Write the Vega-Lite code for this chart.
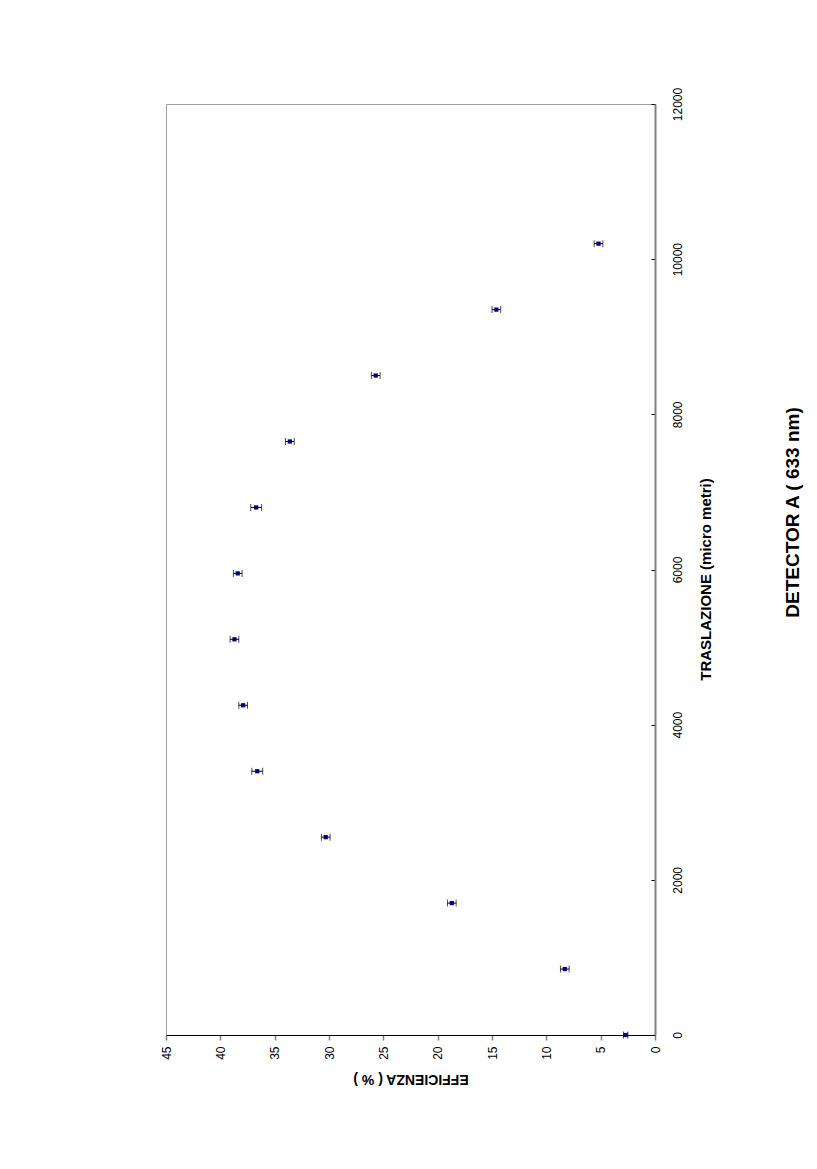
{
  "$schema": "https://vega.github.io/schema/vega-lite/v6.json",
  "autosize": {"type": "none"},
  "width": 489,
  "height": 931,
  "padding": {"left": 166, "top": 104, "right": 162, "bottom": 134},
  "background": "white",
  "config": {
    "font": "Liberation Sans",
    "view": {"stroke": "#a0a0a0", "strokeWidth": 1}
  },
  "title": {
    "text": "DETECTOR A ( 633 nm)",
    "orient": "right",
    "angle": 270,
    "anchor": "middle",
    "fontSize": 19,
    "fontWeight": "bold",
    "color": "black",
    "offset": 52,
    "dx": 57
  },
  "data": {
    "values": [
      {"t": 0, "e": 2.7, "lo": 2.5, "hi": 2.9},
      {"t": 850, "e": 8.3, "lo": 7.9, "hi": 8.7},
      {"t": 1700, "e": 18.7, "lo": 18.3, "hi": 19.1},
      {"t": 2550, "e": 30.3, "lo": 29.9, "hi": 30.7},
      {"t": 3400, "e": 36.6, "lo": 36.1, "hi": 37.1},
      {"t": 4250, "e": 37.9, "lo": 37.5, "hi": 38.3},
      {"t": 5100, "e": 38.7, "lo": 38.3, "hi": 39.1},
      {"t": 5950, "e": 38.4, "lo": 38.0, "hi": 38.8},
      {"t": 6800, "e": 36.7, "lo": 36.2, "hi": 37.2},
      {"t": 7650, "e": 33.6, "lo": 33.2, "hi": 34.0},
      {"t": 8500, "e": 25.7, "lo": 25.3, "hi": 26.1},
      {"t": 9350, "e": 14.6, "lo": 14.2, "hi": 15.0},
      {"t": 10200, "e": 5.2, "lo": 4.8, "hi": 5.6}
    ]
  },
  "encoding": {
    "y": {
      "field": "t",
      "type": "quantitative",
      "scale": {"domain": [0, 12000], "nice": false, "zero": false},
      "axis": {
        "orient": "right",
        "title": "TRASLAZIONE (micro metri)",
        "values": [0, 2000, 4000, 6000, 8000, 10000, 12000],
        "format": "d",
        "grid": false,
        "domainColor": "#808080",
        "domainWidth": 2,
        "tickColor": "black",
        "tickSize": -4,
        "labelAngle": 270,
        "labelAlign": "center",
        "labelBaseline": "middle",
        "labelPadding": 26,
        "labelFontSize": 12,
        "labelColor": "black",
        "labelFont": "Liberation Sans",
        "titleAngle": 270,
        "titleX": 50,
        "titleY": 475,
        "titleBaseline": "middle",
        "titleFontSize": 15,
        "titleFontWeight": "bold",
        "titleColor": "black"
      }
    }
  },
  "layer": [
    {
      "mark": {"type": "rule", "color": "black", "strokeWidth": 1},
      "encoding": {
        "x": {"field": "lo", "type": "quantitative"},
        "x2": {"field": "hi"}
      }
    },
    {
      "mark": {"type": "tick", "orient": "vertical", "color": "black", "size": 7, "thickness": 1},
      "encoding": {"x": {"field": "lo", "type": "quantitative"}}
    },
    {
      "mark": {"type": "tick", "orient": "vertical", "color": "black", "size": 7, "thickness": 1},
      "encoding": {"x": {"field": "hi", "type": "quantitative"}}
    },
    {
      "mark": {"type": "point", "shape": "square", "filled": true, "color": "#000080", "size": 18, "opacity": 1},
      "encoding": {
        "x": {
          "field": "e",
          "type": "quantitative",
          "scale": {"domain": [0, 45], "reverse": true, "nice": false, "zero": false},
          "axis": {
            "orient": "bottom",
            "title": "EFFICIENZA ( % )",
            "values": [0, 5, 10, 15, 20, 25, 30, 35, 40, 45],
            "grid": false,
            "domainColor": "black",
            "domainWidth": 1,
            "tickColor": "#808080",
            "tickSize": 5,
            "tickWidth": 1.5,
            "labelAngle": 270,
            "labelAlign": "right",
            "labelBaseline": "middle",
            "labelPadding": 6,
            "labelFontSize": 12,
            "labelColor": "black",
            "titleAngle": 180,
            "titleY": 43,
            "titleBaseline": "middle",
            "titleFontSize": 14,
            "titleFontWeight": "bold",
            "titleColor": "black"
          }
        }
      }
    }
  ]
}
